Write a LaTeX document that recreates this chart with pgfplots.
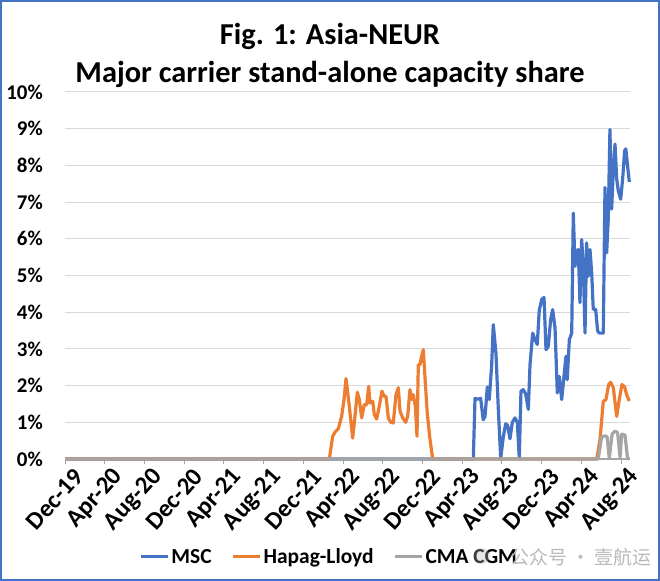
\documentclass[border=0pt]{standalone}
\usepackage{pgfplots}
\pgfplotsset{compat=1.18}
\usepackage{fontspec}
\setmainfont{Carlito}
\newfontfamily\cjk{Noto Sans CJK SC}
\definecolor{mscblue}{HTML}{4472C4}
\definecolor{hlorange}{HTML}{ED7D31}
\definecolor{cmagray}{HTML}{A5A5A5}
\definecolor{gridgray}{HTML}{D9D9D9}
\newcommand{\tlfont}{\fontsize{21}{24}\selectfont\bfseries}
\begin{document}
\begin{tikzpicture}
\path[use as bounding box] (0bp,0bp) rectangle (660bp,581bp);
\draw[mscblue, line width=1.6bp] (0.8bp,0.8bp) rectangle (659.2bp,580.2bp);
\node[anchor=base, inner sep=0pt, font=\fontsize{30.5}{36}\selectfont\bfseries] at (330bp,536bp) {Fig. 1: Asia-NEUR};
\node[anchor=base, inner sep=0pt, font=\fontsize{30.5}{36}\selectfont\bfseries] at (330bp,498bp) {Major carrier stand-alone capacity share};
\begin{axis}[
  at={(65bp,122bp)}, anchor=south west,
  scale only axis, width=564.5bp, height=367bp,
  xmin=0, xmax=56.85, ymin=0, ymax=10,
  clip=false,
  axis x line*=bottom, axis y line*=left,
  y axis line style={draw=none},
  x axis line style={draw=cmagray, line width=1.2bp, -},
  ytick={0,1,...,10},
  yticklabels={0\%,1\%,2\%,3\%,4\%,5\%,6\%,7\%,8\%,9\%,10\%},
  ytick style={draw=none},
  ymajorgrids, grid style={draw=gridgray, line width=1bp},
  xtick={0,4,...,56},
  xticklabels={Dec-19,Apr-20,Aug-20,Dec-20,Apr-21,Aug-21,Dec-21,Apr-22,Aug-22,Dec-22,Apr-23,Aug-23,Dec-23,Apr-24,Aug-24},
  xtick style={draw=cmagray, line width=1bp},
  tick align=outside, major tick length=5bp,
  yticklabel style={font=\tlfont, anchor=east, inner sep=0pt, xshift=-17bp},
  xticklabel style={font=\fontsize{25}{30}\selectfont\bfseries, rotate=48, anchor=east, inner sep=0pt, yshift=-16bp, xshift=3bp},
  legend columns=-1,
  legend style={at={(0.468,-0.267)}, anchor=center, draw=none, fill=none,
    font=\fontsize{21.5}{24}\selectfont\bfseries,
    /tikz/every even column/.append style={column sep=18bp}},
  legend image code/.code={\draw[#1, line width=3bp] (0bp,0bp) -- (27bp,0bp);},
  every axis plot/.append style={line width=3.2bp, line join=round, no markers},
]
\addplot[mscblue] table {
0 0
41.12 0
41.29 1.65
41.62 1.63
41.86 1.65
42.12 1.07
42.30 1.16
42.53 1.96
42.73 1.62
42.97 2.57
43.13 3.66
43.40 2.89
43.64 1.35
43.88 0.02
44.14 0.6
44.38 0.96
44.58 0.91
44.81 0.55
45.05 1.0
45.32 1.12
45.55 1.0
45.75 0.02
45.92 1.85
46.15 1.89
46.39 1.78
46.66 1.35
46.83 2.57
47.10 3.43
47.33 3.25
47.56 3.12
47.76 4.05
48.01 4.35
48.24 4.4
48.44 2.98
48.67 3.07
48.91 3.8
49.11 4.07
49.35 3.57
49.58 1.8
49.78 2.25
50.02 1.62
50.25 2.25
50.45 2.8
50.58 2.16
50.79 3.25
51.03 3.43
51.19 6.7
51.36 5.25
51.53 5.62
51.69 5.71
51.86 4.26
52.03 5.98
52.19 5.35
52.37 3.43
52.53 5.89
52.70 4.98
52.87 5.71
53.04 5.08
53.20 4.08
53.44 4.08
53.64 3.49
53.81 3.43
54.21 3.43
54.38 7.4
54.55 5.62
54.71 6.53
54.88 8.98
55.05 6.81
55.22 7.86
55.39 8.58
55.56 7.63
55.72 7.31
55.96 7.08
56.16 7.63
56.36 8.4
56.48 8.45
56.65 8.0
56.83 7.55
};
\addlegendentry{MSC}
\addplot[hlorange] table {
0 0
26.62 0
26.96 0.62
27.19 0.73
27.52 0.82
27.86 1.16
28.10 1.62
28.30 2.19
28.63 1.44
28.97 0.57
29.17 1.07
29.44 1.82
29.64 1.62
29.88 1.12
30.14 1.48
30.38 1.48
30.58 1.98
30.72 1.53
30.99 1.57
31.15 1.21
31.39 1.09
31.65 1.44
31.92 1.85
32.12 1.71
32.33 1.71
32.56 1.12
32.80 1.0
33.06 0.98
33.33 1.75
33.57 1.94
33.74 1.3
34.01 1.12
34.31 1.0
34.51 1.16
34.74 1.89
34.94 1.62
35.08 1.75
35.28 1.44
35.45 0.62
35.58 2.57
35.75 2.57
35.92 2.8
36.08 2.98
36.25 2.25
36.48 1.25
36.76 0.53
37.03 0
53.55 0
53.88 0.53
54.21 1.57
54.48 1.62
54.75 2.03
54.95 2.09
55.22 1.94
55.56 1.16
55.82 1.62
56.09 2.03
56.36 1.96
56.56 1.75
56.83 1.58
};
\addlegendentry{Hapag-Lloyd}
\addplot[cmagray] table {
0 0
53.70 0
54.04 0.60
54.38 0.63
54.60 0.60
54.81 0.02
55.10 0.68
55.40 0.76
55.65 0.72
55.90 0.05
56.07 0.68
56.40 0.65
56.65 0.02
56.83 0
};
\addlegendentry{CMA CGM}
\end{axis}
\fill[gray!55, opacity=0.35] (482bp,25bp) circle (8bp);
\node[anchor=west, inner sep=0pt, text=gray!55, font=\fontsize{19}{22}\selectfont\cjk] at (510bp,24bp) {公众号 · 壹航运};
\end{tikzpicture}
\end{document}
